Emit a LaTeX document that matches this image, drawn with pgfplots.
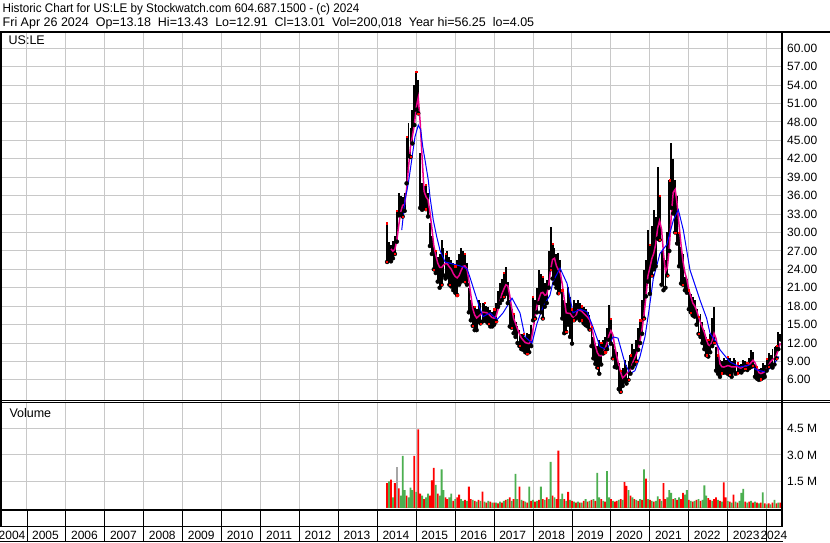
\documentclass[border=0pt]{standalone}
\usepackage{graphicx}
\usepackage{pgfplots}
\pgfplotsset{compat=1.18}
\usepackage{pgfplotstable}
\usepackage{fontspec}
\setmainfont{Liberation Sans}
\definecolor{vgreen}{RGB}{76,175,80}
\definecolor{gridc}{RGB}{200,200,200}

\pgfplotstableread{
x hi lo ma
2014.25 31.5 25.2 nan
2014.30 28.5 25.5 nan
2014.35 28.0 25.3 27.33
2014.40 28.6 25.8 26.95
2014.45 29.5 26.5 27.28
2014.50 33.5 28.5 28.73
2014.55 36.4 32.8 31.2
2014.60 36.0 33.0 33.37
2014.65 35.8 32.6 34.43
2014.70 36.5 33.5 34.57
2014.75 45.6 38.0 37.0
2014.80 47.8 42.5 40.65
2014.85 47.0 42.3 43.87
2014.90 50.0 44.5 45.68
2014.95 54.0 47.5 47.55
2015.00 56.2 50.0 50.37
2015.05 54.8 49.4 51.98
2015.10 43.0 34.0 47.9
2015.15 38.0 33.7 42.15
2015.20 37.5 34.0 36.7
2015.25 37.8 33.8 35.8
2015.30 36.4 32.6 35.35
2015.35 31.5 27.8 33.32
2015.40 29.5 26.5 30.72
2015.45 27.7 24.0 27.83
2015.50 27.0 23.4 26.35
2015.55 26.0 22.0 25.02
2015.60 26.5 21.0 24.32
2015.65 28.8 21.5 24.3
2015.70 27.4 23.0 24.7
2015.75 26.5 22.5 24.95
2015.80 27.0 22.8 24.87
2015.85 26.0 21.5 24.38
2015.90 25.5 21.2 24.0
2015.95 25.0 20.6 23.3
2016.00 24.5 20.2 22.83
2016.05 25.5 19.8 22.6
2016.10 26.5 21.5 23.0
2016.15 27.4 22.0 23.78
2016.20 27.0 22.5 24.48
2016.25 26.5 22.0 24.57
2016.30 25.0 21.5 24.08
2016.35 21.0 17.0 22.17
2016.40 19.0 15.7 19.87
2016.45 18.0 14.8 17.58
2016.50 17.9 14.1 16.58
2016.55 17.5 14.1 16.07
2016.60 19.0 15.5 16.35
2016.65 18.5 15.2 16.63
2016.70 18.5 15.5 17.03
2016.75 18.5 15.7 16.98
2016.80 18.0 15.5 16.95
2016.85 17.8 15.2 16.78
2016.90 17.4 14.7 16.43
2016.95 17.0 14.7 16.13
2017.00 17.5 15.0 16.05
2017.05 18.5 15.5 16.37
2017.10 20.5 17.9 17.48
2017.15 21.7 18.5 18.77
2017.20 22.5 19.0 20.02
2017.25 23.5 19.5 20.78
2017.30 24.4 20.0 21.48
2017.35 22.0 18.5 21.32
2017.40 19.0 14.7 19.77
2017.45 17.5 14.5 17.7
2017.50 16.8 13.6 16.02
2017.55 15.5 13.0 15.15
2017.60 14.8 12.0 14.28
2017.65 14.1 11.5 13.48
2017.70 13.5 11.0 12.82
2017.75 13.5 10.9 12.42
2017.80 13.0 10.5 12.07
2017.85 13.6 10.3 11.97
2017.90 13.5 10.5 11.9
2017.95 15.0 11.5 12.4
2018.00 19.5 15.7 14.28
2018.05 19.0 16.0 16.12
2018.10 21.0 17.0 18.03
2018.15 23.9 18.5 19.23
2018.20 23.3 17.0 20.12
2018.25 22.8 16.0 20.25
2018.30 21.7 17.9 19.78
2018.35 22.3 18.5 19.87
2018.40 27.0 21.0 21.4
2018.45 30.9 24.0 23.95
2018.50 28.2 22.5 25.6
2018.55 27.5 21.7 25.8
2018.60 26.5 21.0 24.57
2018.65 26.6 20.1 23.9
2018.70 25.5 20.5 23.37
2018.75 20.6 16.0 21.55
2018.80 19.0 13.6 19.2
2018.85 18.5 13.8 16.92
2018.90 21.2 15.0 16.85
2018.95 19.5 13.0 16.83
2019.00 17.5 11.9 16.35
2019.05 19.0 15.7 16.1
2019.10 18.5 16.0 16.43
2019.15 19.0 16.2 17.4
2019.20 18.5 15.7 17.32
2019.25 18.0 15.7 17.18
2019.30 17.9 15.2 16.83
2019.35 17.5 14.9 16.53
2019.40 17.0 14.7 16.2
2019.45 16.5 14.2 15.8
2019.50 14.7 11.5 14.77
2019.55 13.0 9.5 13.23
2019.60 12.0 8.6 11.55
2019.65 11.5 8.0 10.43
2019.70 12.5 7.0 9.93
2019.75 12.0 8.5 9.92
2019.80 12.5 10.3 10.47
2019.85 13.0 10.5 11.13
2019.90 14.5 11.0 11.97
2019.95 18.2 12.5 13.28
2020.00 16.0 11.9 14.02
2020.05 11.9 9.5 13.33
2020.10 11.0 8.1 11.4
2020.15 10.5 8.0 9.83
2020.20 8.7 4.5 8.47
2020.25 7.5 4.05 7.22
2020.30 8.0 5.0 6.3
2020.35 9.2 5.8 6.6
2020.40 8.5 5.4 6.98
2020.45 9.0 6.0 7.32
2020.50 10.0 7.0 7.65
2020.55 11.9 8.0 8.65
2020.60 11.0 8.5 9.4
2020.65 12.5 9.0 10.15
2020.70 14.5 10.9 11.07
2020.75 15.7 12.0 12.43
2020.80 19.0 13.5 14.27
2020.85 23.9 16.0 16.68
2020.90 25.5 19.6 19.58
2020.95 30.4 22.0 22.9
2021.00 28.0 20.0 24.25
2021.05 31.0 23.0 25.73
2021.10 33.7 24.0 26.62
2021.15 32.5 24.5 28.12
2021.20 40.7 29.0 30.73
2021.25 36.0 28.8 31.92
2021.30 27.0 21.5 30.5
2021.35 26.0 20.6 26.65
2021.40 25.5 21.0 23.6
2021.45 30.0 23.0 24.35
2021.50 38.5 27.0 27.5
2021.55 44.5 34.0 32.83
2021.60 42.0 33.1 36.52
2021.65 38.5 30.0 37.02
2021.70 36.0 28.2 34.63
2021.75 30.0 24.5 31.2
2021.80 27.7 21.7 28.02
2021.85 26.5 21.5 25.32
2021.90 22.8 20.6 23.47
2021.95 22.5 20.2 22.35
2022.00 20.6 17.5 20.7
2022.05 20.0 17.0 19.63
2022.10 19.5 16.5 18.52
2022.15 19.0 16.3 18.05
2022.20 17.5 15.0 17.3
2022.25 16.3 13.5 16.27
2022.30 16.8 13.0 15.35
2022.35 15.5 12.0 14.52
2022.40 14.1 11.0 13.73
2022.45 13.0 10.0 12.6
2022.50 12.5 9.8 11.73
2022.55 13.5 10.5 11.55
2022.60 16.0 11.5 12.3
2022.65 17.9 12.0 13.57
2022.70 11.4 7.5 12.72
2022.75 10.0 7.0 10.97
2022.80 9.2 6.5 8.6
2022.85 9.0 7.1 8.13
2022.90 9.5 7.2 8.08
2022.95 9.2 7.2 8.2
2023.00 9.8 7.0 8.32
2023.05 9.5 6.8 8.25
2023.10 9.0 6.5 8.1
2023.15 9.5 7.5 8.13
2023.20 9.2 7.0 8.12
2023.25 8.7 7.1 8.17
2023.30 8.5 7.3 7.97
2023.35 8.6 7.2 7.9
2023.40 9.2 7.6 8.07
2023.45 9.0 7.8 8.23
2023.50 8.8 7.6 8.33
2023.55 9.5 7.9 8.43
2023.60 10.9 8.1 8.8
2023.65 10.5 8.3 9.2
2023.70 8.5 6.5 8.8
2023.75 8.1 6.2 8.02
2023.80 7.8 6.0 7.18
2023.85 8.0 6.1 7.03
2023.90 8.7 6.3 7.15
2023.95 8.5 6.5 7.35
2024.00 9.5 7.5 7.83
2024.05 10.3 8.1 8.4
2024.10 10.0 8.3 8.95
2024.15 11.0 8.0 9.28
2024.20 11.4 8.5 9.53
2024.25 11.5 9.5 9.98
2024.30 13.8 11.0 10.95
2024.35 13.43 12.6 11.97
}\price

\pgfplotstableread{
x b
2014.626 30.4
2014.71 35.3
2014.795 38.0
2014.882 41.8
2014.967 45.6
2015.052 47.5
2015.114 46.7
2015.165 44.0
2015.224 41.8
2015.309 38.5
2015.352 35.8
2015.437 32.0
2015.525 29.3
2015.609 27.1
2015.738 25.2
2015.866 25.0
2016.038 24.7
2016.208 24.4
2016.311 24.0
2016.398 22.3
2016.508 20.1
2016.619 17.9
2016.714 16.3
2016.894 16.9
2017.074 15.8
2017.228 16.9
2017.459 19.3
2017.664 16.9
2017.792 13.0
2017.973 12.0
2018.101 15.2
2018.255 17.9
2018.435 19.8
2018.512 22.0
2018.692 24.2
2018.872 21.7
2019.026 16.9
2019.205 17.5
2019.385 17.1
2019.539 14.6
2019.719 11.4
2019.899 10.9
2020.053 13.0
2020.181 12.8
2020.361 8.7
2020.489 7.0
2020.617 7.5
2020.746 9.8
2020.874 13.0
2020.97 17.0
2021.088 22.5
2021.26 26.6
2021.433 28.0
2021.603 32.0
2021.731 33.7
2021.859 30.4
2022.03 23.9
2022.287 19.0
2022.459 16.0
2022.544 13.6
2022.716 12.0
2022.801 10.9
2023.058 8.9
2023.314 8.1
2023.571 8.4
2023.751 7.6
2023.957 7.3
2024.137 8.1
2024.317 9.8
}\blueMA

\pgfplotstableread{
x r g
2014.25 1.4 0
2014.30 0 1.5
2014.35 1.6 0
2014.40 0 0.6
2014.45 1.4 0
2014.50 0 0
2014.55 1.1 0
2014.60 0 0.7
2014.65 0 2.95
2014.70 0 1.0
2014.75 0.7 0
2014.80 0 0.6
2014.85 0 1.15
2014.90 0 1.0
2014.95 2.95 0
2015.00 0 0.9
2015.05 4.45 0
2015.10 0.8 0
2015.15 0 0.7
2015.20 0.5 0
2015.25 0 0.6
2015.30 0 0.8
2015.35 0.7 0
2015.40 1.55 0
2015.45 2.27 0
2015.50 0 1.3
2015.55 0.8 0
2015.60 0 0.7
2015.65 0 2.18
2015.70 0 1.0
2015.75 0.6 0
2015.80 0.5 0
2015.85 0 0.6
2015.90 0 0.8
2015.95 0.4 0
2016.00 0 0.5
2016.05 0.6 0
2016.10 0.75 0
2016.15 0 0.5
2016.20 0 0.4
2016.25 0.45 0
2016.30 0 0.4
2016.35 1.2 0
2016.40 0.5 0
2016.45 0 0.45
2016.50 0.4 0
2016.55 0 0.35
2016.60 0.45 0
2016.65 0 0.4
2016.70 0.92 0
2016.75 0 0.35
2016.80 0.3 0
2016.85 0 0.4
2016.90 0.35 0
2016.95 0 0.3
2017.00 0.3 0
2017.05 0 0.3
2017.10 0.25 0
2017.15 0 0.35
2017.20 0.3 0
2017.25 0 0.4
2017.30 0.45 0
2017.35 0 0.5
2017.40 0.6 0
2017.45 0 0.4
2017.50 0.5 0
2017.55 0 1.92
2017.60 0 0.5
2017.65 1.2 0
2017.70 0 0.45
2017.75 0.4 0
2017.80 0 0.35
2017.85 0.3 0
2017.90 0 1.2
2017.95 0.4 0
2018.00 0 0.45
2018.05 0.35 0
2018.10 0 0.4
2018.15 0.45 0
2018.20 0 1.2
2018.25 0.5 0
2018.30 0 0.45
2018.35 0.6 0
2018.40 0 0.5
2018.45 0 2.6
2018.50 0.7 0
2018.55 0 0.6
2018.60 0.5 0
2018.65 3.24 0
2018.70 0 0.5
2018.75 0 0.8
2018.80 0.5 0
2018.85 0 0.4
2018.90 0.9 0
2018.95 0 0.45
2019.00 0.4 0
2019.05 0 0.35
2019.10 0.3 0
2019.15 0 0.35
2019.20 0.3 0
2019.25 0 0.3
2019.30 0.4 0
2019.35 0 0.5
2019.40 0.35 0
2019.45 0 0.4
2019.50 0.45 0
2019.55 0 0.5
2019.60 0.4 0
2019.65 0 1.98
2019.70 0 0.6
2019.75 0.5 0
2019.80 0 0.4
2019.85 0.35 0
2019.90 0 2.08
2019.95 0 0.6
2020.00 0.5 0
2020.05 0 0.4
2020.10 0.35 0
2020.15 0.4 0
2020.20 0 0.45
2020.25 0.5 0
2020.30 0 0.45
2020.35 1.46 0
2020.40 1.25 0
2020.45 0 1.0
2020.50 0.7 0
2020.55 0 0.6
2020.60 0.5 0
2020.65 0 0.45
2020.70 0.4 0
2020.75 0 0.5
2020.80 0.45 0
2020.85 0 2.18
2020.90 1.65 0
2020.95 0 0.5
2021.00 0.45 0
2021.05 0 0.4
2021.10 0.35 0
2021.15 0 0.4
2021.20 0 0.65
2021.25 0.5 0
2021.30 0 0.4
2021.35 1.4 0
2021.40 0.5 0
2021.45 0 0.6
2021.50 0 1.0
2021.55 0 0.85
2021.60 0.5 0
2021.65 0 0.55
2021.70 0.45 0
2021.75 0 0.6
2021.80 0.5 0
2021.85 0.85 0
2021.90 0 0.75
2021.95 0 1.0
2022.00 0.45 0
2022.05 0 0.4
2022.10 0.35 0
2022.15 0 0.4
2022.20 0.45 0
2022.25 0 0.5
2022.30 0.4 0
2022.35 0 0.45
2022.40 0 1.27
2022.45 0 0.7
2022.50 0.55 0
2022.55 0.45 0
2022.60 0 0.4
2022.65 0.5 0
2022.70 0.6 0
2022.75 0 0.45
2022.80 0.4 0
2022.85 0 0.35
2022.90 1.44 0
2022.95 0.6 0
2023.00 0 0.4
2023.05 0.35 0
2023.10 0 0.3
2023.15 0.75 0
2023.20 0 0.35
2023.25 0.3 0
2023.30 0 0.4
2023.35 0 0.85
2023.40 0 1.08
2023.45 0.35 0
2023.50 0 0.3
2023.55 0.35 0
2023.60 0 0.4
2023.65 0.3 0
2023.70 0 0.35
2023.75 0.3 0
2023.80 0 0.25
2023.85 0.3 0
2023.90 0 0.88
2023.95 0.25 0
2024.00 0 0.2
2024.05 0.25 0
2024.10 0 0.2
2024.15 0.3 0
2024.20 0 0.45
2024.25 0.25 0
2024.30 0 0.3
2024.35 0.3 0
}\vol

\pgfplotsset{
  panel/.style={
    anchor=south west, scale only axis, width=780pt,
    xmin=2004.358, xmax=2024.394,
    axis line style={draw=none},
    xtick={2005,...,2024}, xticklabels={},
    major tick length=0pt,
    grid=major, major grid style={draw=gridc, line width=1pt},
    yticklabel pos=right,
    yticklabel style={anchor=west, inner sep=0pt, xshift=5pt, font=\fontsize{12}{14}\selectfont},
  }
}

\begin{document}
\begin{tikzpicture}
\useasboundingbox (0pt,0pt) rectangle (830pt,543pt);
\fill[white] (0pt,0pt) rectangle (830pt,543pt);

\begin{axis}[panel, at={(2pt,143pt)}, height=368pt,
  ymin=2.72, ymax=62.65,
  ytick={6,9,...,60},
  yticklabels={6.00,9.00,12.00,15.00,18.00,21.00,24.00,27.00,30.00,33.00,36.00,39.00,42.00,45.00,48.00,51.00,54.00,57.00,60.00}]
\addplot[only marks, mark=none, forget plot,
  error bars/.cd, y dir=plus, y explicit, error mark=none,
  error bar style={line width=1.9pt, black}]
  table[x=x, y=lo, y error plus expr=\thisrow{hi}-\thisrow{lo}]{\price};
\addplot[only marks, mark=square*, mark size=0.6pt, red, each nth point=4] table[x=x, y=lo]{\price};
\addplot[only marks, mark=square*, mark size=0.6pt, red, each nth point=5] table[x=x, y=hi]{\price};
\addplot[magenta, line width=1.5pt, unbounded coords=jump] table[x=x, y=ma]{\price};
\addplot[blue, line width=1pt] table[x=x, y=b]{\blueMA};
\end{axis}

\begin{axis}[panel, at={(2pt,33pt)}, height=107pt,
  ymin=-0.12, ymax=5.937,
  ytick={1.5,3,4.5},
  yticklabels={1.5 M,3.0 M,4.5 M}]
\addplot[ybar, bar width=1.8pt, bar shift=0pt, fill=red, draw=none] table[x=x, y=r]{\vol};
\addplot[ybar, bar width=1.8pt, bar shift=0pt, fill=vgreen, draw=none] table[x=x, y=g]{\vol};
\addplot[ybar, bar width=1.8pt, bar shift=0pt, fill=gray!70, draw=none] coordinates {(2014.50,2.3)};
\end{axis}

\begin{scope}[x=1pt, y=1pt]
% frame
\draw[line width=1.5pt] (0,511) -- (830,511);
\draw[line width=0.9pt] (0,142.5) -- (830,142.5);
\draw[line width=0.9pt] (0,140.2) -- (830,140.2);
\draw[line width=1.8pt] (0,32.8) -- (783,32.8);
\draw[line width=1.5pt] (0,16.6) -- (783,16.6);
\draw[line width=1pt] (0,1) -- (783,1);
\foreach \y in {2005,...,2024} {
  \pgfmathsetmacro{\cx}{27+(\y-2005)*38.93}
  \draw[line width=1pt] (\cx,32) -- (\cx,1);
}
% year labels
\begin{scope}[font=\fontsize{12}{14}\selectfont]
\foreach \y in {2005,...,2023} {
  \pgfmathsetmacro{\cx}{27+(\y-2005)*38.93+18.5}
  \node[anchor=base, inner sep=0pt] at (\cx,3.8) {\y};
}
\node[anchor=base west, inner sep=0pt] at (-1.5,3.8) {2004};
\begin{scope}
\clip (700,2) rectangle (787.5,16);
\node[anchor=base west, inner sep=0pt] at (760.3,3.8) {2024};
\end{scope}
\end{scope}
\draw[line width=2.4pt] (1.2,511) -- (1.2,16);
\draw[line width=2.5pt] (781.8,511) -- (781.8,16);
% texts
\node[anchor=base west, inner sep=0pt, font=\fontsize{12.5}{14}\selectfont] at (2.5,530) {\scalebox{0.935}[1]{Historic Chart for US:LE by Stockwatch.com 604.687.1500 - (c) 2024}};
\node[anchor=base west, inner sep=0pt, font=\fontsize{12.5}{14}\selectfont] at (2.5,516) {Fri Apr 26 2024\ \ Op=13.18\ \ Hi=13.43\ \ Lo=12.91\ \ Cl=13.01\ \ Vol=200,018\ \ Year hi=56.25\ \ lo=4.05};
\node[anchor=base west, inner sep=0pt, font=\fontsize{12.5}{14}\selectfont] at (8.5,498) {US:LE};
\node[anchor=base west, inner sep=0pt, font=\fontsize{12.5}{14}\selectfont] at (9.3,125) {Volume};
\end{scope}
\end{tikzpicture}
\end{document}
